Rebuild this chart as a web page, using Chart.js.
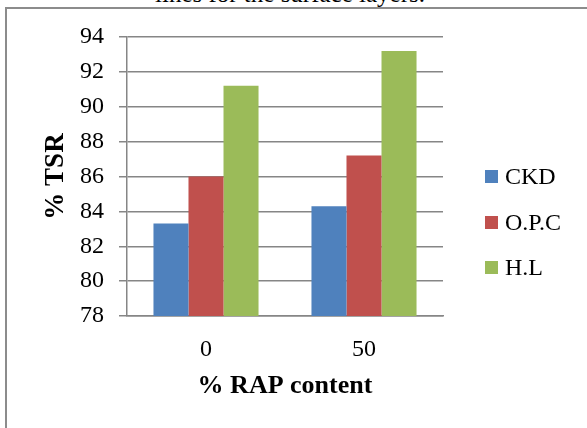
<!DOCTYPE html>
<html>
<head>
<meta charset="utf-8">
<script src="https://cdn.jsdelivr.net/npm/chart.js@4.4.0/dist/chart.umd.min.js"></script>
<style>
  body { margin: 0; background: #fff; }
  #wrap { position: relative; width: 587px; height: 428px; overflow: hidden; font-family: "Liberation Serif", serif; }
  #caption { position: absolute; left: 0; width: 580px; top: -16px; text-align: center; font-size: 25px; line-height: 20px; color: #000; }
  #frame { position: absolute; left: 5px; top: 7px; width: 600px; height: 440px; border: 2px solid #8c8c8c; box-sizing: border-box; }
  #myChart { position: absolute; left: 0; top: 0; }
  .leg { position: absolute; left: 485px; font-size: 24px; line-height: 24px; color: #000; }
  .leg span { position: absolute; left: 0; width: 13px; height: 13px; }
  .leg b { position: absolute; left: 20px; top: -12px; font-weight: normal; white-space: nowrap; }
</style>
</head>
<body>
<div id="wrap">
  <div id="caption">lines for the surface layers.</div>
  <div id="frame"></div>
  <canvas id="myChart" width="587" height="428"></canvas>
  <div id="legend"></div>
</div>
<script>
// datos
const categories = ["0", "50"];
const seriesNames = ["CKD", "O.P.C", "H.L"];
const ckd = [83.3, 84.3];
const opc = [86.0, 87.2];
const hl = [91.2, 93.2];
const colors = ["#4F81BD", "#C0504D", "#9BBB59"];

const gridColor = "#868686";

const dataChar = {
    labels: categories,
    datasets: [ckd, opc, hl].map((values, i) => ({
        label: seriesNames[i],
        data: values,
        backgroundColor: colors[i],
        borderWidth: 0,
        barPercentage: 1,
        categoryPercentage: 0.665
    }))
};

const config = {
    type: 'bar',
    data: dataChar,
    options: {
        responsive: false,
        animation: false,
        layout: { padding: { left: 0, right: 144, top: 37, bottom: 0 } },
        plugins: {
            legend: { display: false },
            tooltip: { enabled: false }
        },
        scales: {
            y: {
                min: 78,
                max: 94,
                ticks: {
                    stepSize: 2,
                    padding: 15,
                    color: "#000",
                    font: { family: "Liberation Serif", size: 24 }
                },
                grid: { color: gridColor, lineWidth: 1.5, tickLength: 8 },
                border: { color: gridColor, width: 1.5 },
                title: {
                    display: true,
                    text: "% TSR",
                    color: "#000",
                    padding: { top: 40, bottom: 0 },
                    font: { family: "Liberation Serif", size: 27, weight: "bold" }
                },
                afterFit: scale => { scale.width = 127; }
            },
            x: {
                grid: { display: false, drawTicks: false },
                border: { color: gridColor, width: 1.5 },
                ticks: {
                    padding: 19,
                    color: "#000",
                    font: { family: "Liberation Serif", size: 24 }
                },
                title: {
                    display: true,
                    text: "% RAP content",
                    color: "#000",
                    padding: { top: 0, bottom: 26 },
                    font: { family: "Liberation Serif", size: 26, weight: "bold" }
                },
                afterFit: scale => { scale.height = 112; }
            }
        }
    }
};

new Chart(document.getElementById("myChart").getContext("2d"), config);

// leyenda a la derecha
const legendTops = [176, 222, 267];
document.getElementById("legend").innerHTML = seriesNames.map((name, i) => `
    <div class="leg" style="top:${legendTops[i]}px">
        <span style="background:${colors[i]};top:-6px"></span>
        <b>${name}</b>
    </div>`).join("");
</script>
</body>
</html>
